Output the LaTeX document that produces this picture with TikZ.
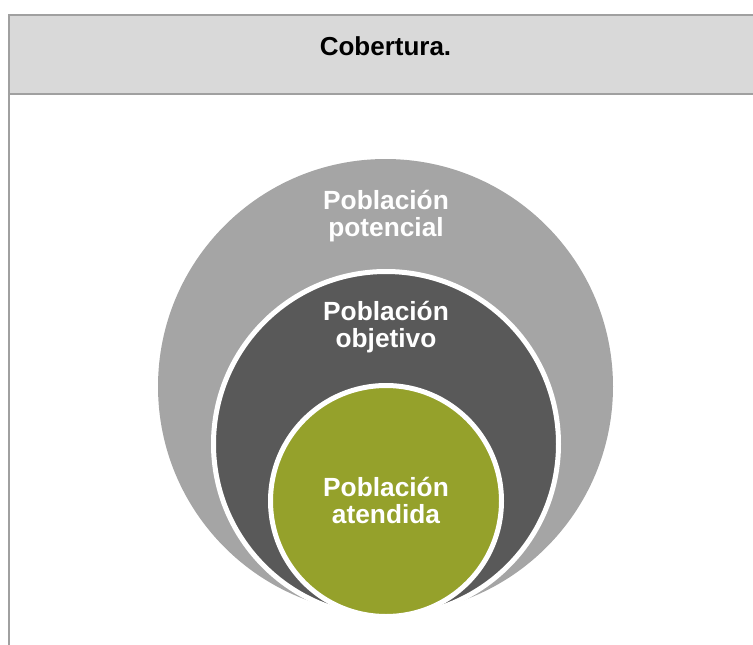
\documentclass[tikz,border=0pt]{standalone}
\usepackage{fontspec}
\setmainfont{Liberation Sans}
\definecolor{rulegray}{HTML}{A0A0A0}
\definecolor{headfill}{HTML}{D9D9D9}
\definecolor{ringlight}{HTML}{A5A5A5}
\definecolor{ringdark}{HTML}{595959}
\definecolor{olive}{RGB}{149,161,43}
\begin{document}
\begin{tikzpicture}[x=1pt,y=-1pt,
  frame/.style={draw=rulegray,line width=2pt},
  disc/.style={circle,inner sep=0pt,outer sep=0pt},
  ring/.style={disc,draw=white,line width=5pt},
  lbl/.style={text=white,font=\fontsize{26.3}{27}\selectfont\bfseries,align=center,inner sep=0pt}]
  \useasboundingbox (0,0) rectangle (753,645);
  % table header and left rule
  \fill[headfill] (9,15) rectangle (760,94);
  \draw[frame] (760,15) -- (9,15) -- (9,650);
  \draw[frame] (9,94) -- (760,94);
  \node[font=\fontsize{26}{27}\selectfont\bfseries,anchor=base,inner sep=0pt] (title) at (385.5,56) {Cobertura.};
  % nested populations
  \node[disc,fill=ringlight,minimum size=455pt] (potencial) at (385.5,386.5) {};
  \node[ring,fill=ringdark,minimum size=345pt] (objetivo) at (386,444) {};
  \node[ring,fill=olive,minimum size=231pt] (atendida) at (386,501) {};
  % labels (base anchor sits on the last line)
  \node[lbl,anchor=base] (tpot) at (386,236) {Población\\potencial};
  \node[lbl,anchor=base] (tobj) at (386,347.5) {Población\\objetivo};
  \node[lbl,anchor=base] (tate) at (386,523.5) {Población\\atendida};
\end{tikzpicture}
\end{document}
